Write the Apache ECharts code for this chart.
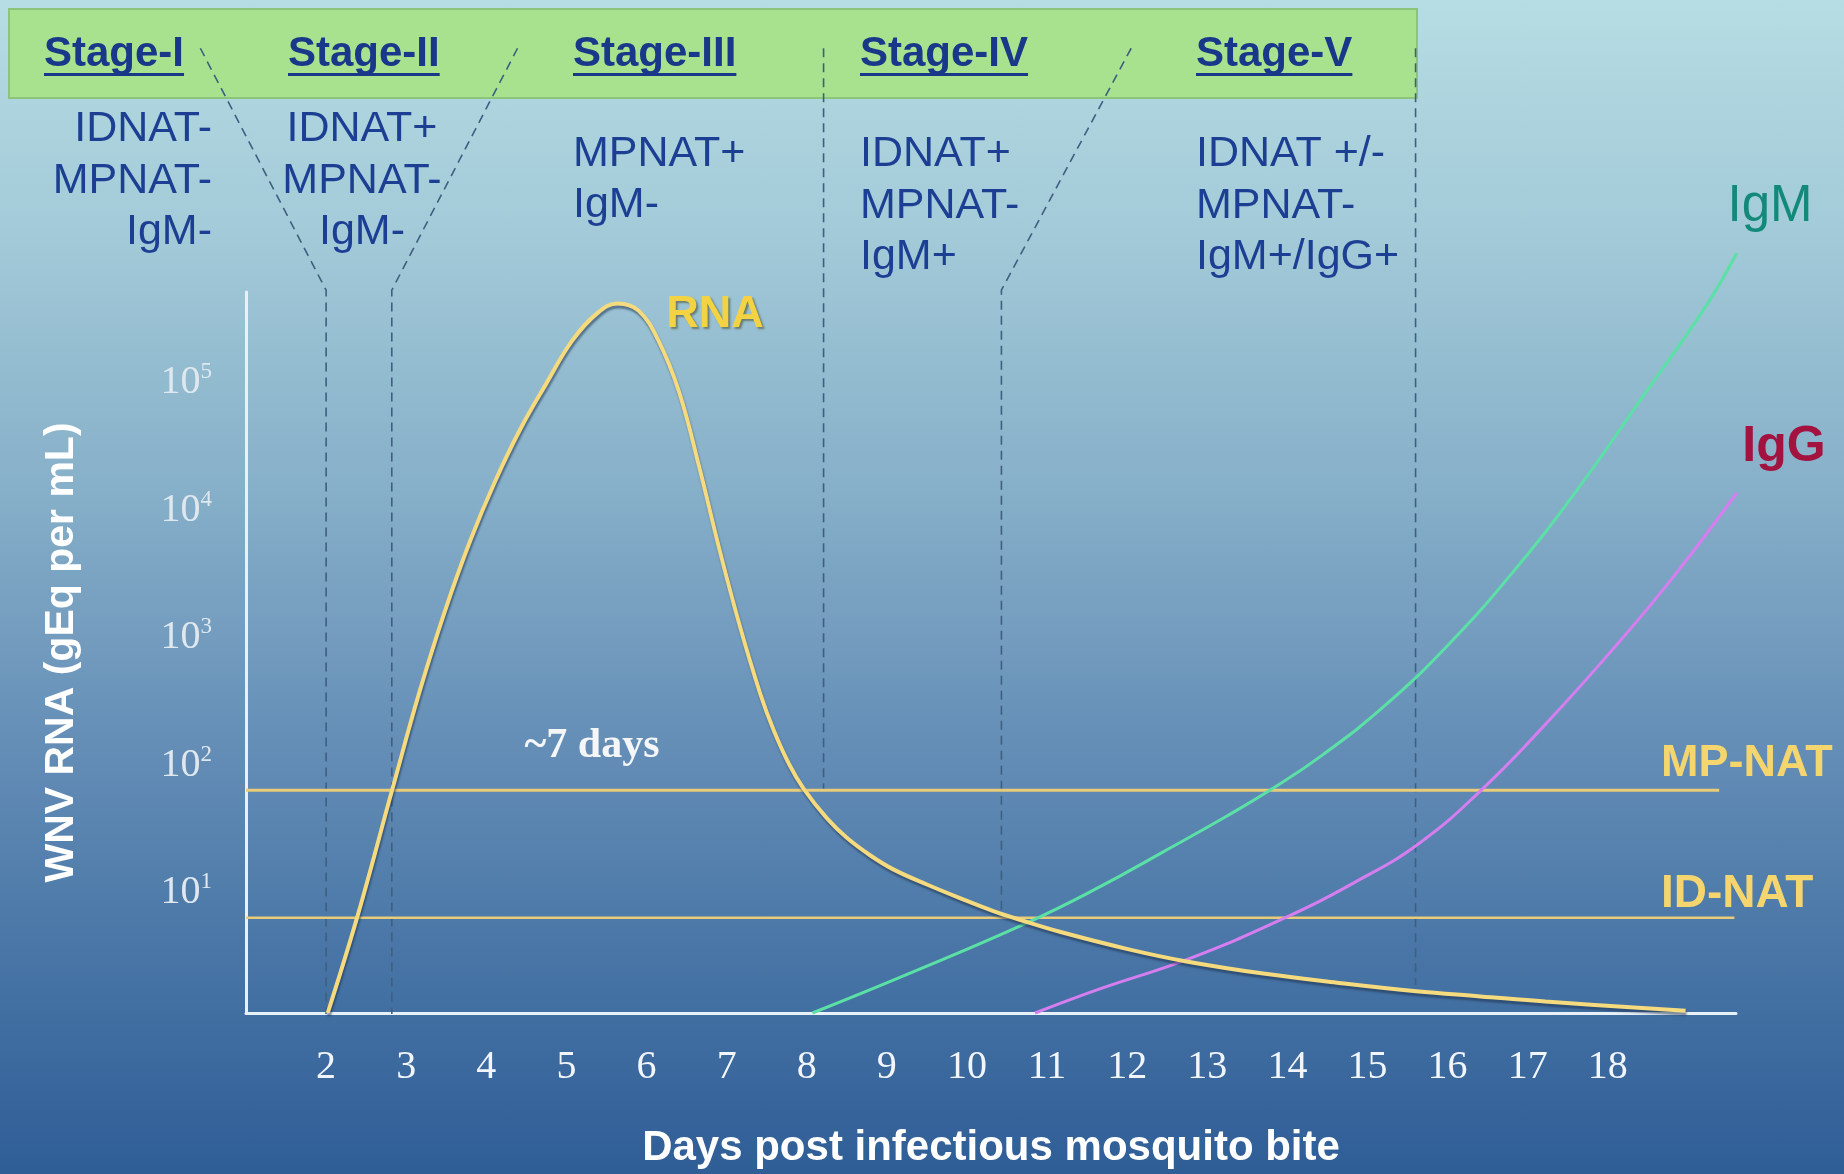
<!DOCTYPE html>
<html><head><meta charset="utf-8">
<script src="https://cdn.jsdelivr.net/npm/echarts@6/dist/echarts.min.js"></script>
<style>
html,body{margin:0;padding:0;}
#chart{width:1844px;height:1174px;background:linear-gradient(to bottom,#b6dde3 0%,#a2cad8 20%,#86afc9 42%,#6790b8 62%,#4a77a7 80%,#2f5d96 100%);}
</style></head><body><div id="chart"></div>
<script>
// ---------- data ----------
const xTickDays = [2,3,4,5,6,7,8,9,10,11,12,13,14,15,16,17,18];
const yTickExponents = [1,2,3,4,5];

const rnaDays   = [2.02, 2.39, 2.83, 3.16, 3.48, 3.80, 4.11, 4.43, 4.75, 5.07, 5.39, 5.64, 5.90, 6.15, 6.41, 6.66, 6.92, 7.17, 7.42, 7.59, 7.78, 7.96, 8.25, 8.50, 8.79, 9.08, 9.50, 9.92, 10.33, 10.67, 11.17, 12.02, 12.74, 13.70, 14.65, 15.61, 16.41, 17.22, 18.97];
const rnaValues = [1, 5.7, 58, 322, 1406, 5100, 14900, 38800, 87300, 188000, 312000, 370000, 325000, 188000, 73600, 19000, 4100, 1060, 320, 164, 89.5, 57.7, 33.8, 23.7, 17.3, 13.4, 10.2, 7.94, 6.31, 5.37, 4.32, 3.16, 2.54, 2.04, 1.72, 1.48, 1.35, 1.23, 1.04];

const igmDays   = [8.07, 9.26, 10.77, 11.65, 12.45, 13.24, 13.80, 14.44, 15.24, 16.03, 16.82, 17.62, 18.42, 19.22, 19.61];
const igmValues = [1, 2.02, 5.17, 9.71, 18.4, 35, 56.9, 106, 266, 801, 2910, 12800, 66500, 349000, 920000];

const iggDays   = [10.85, 11.65, 12.76, 13.96, 14.84, 15.63, 16.43, 17.22, 18.02, 18.82, 19.61];
const iggValues = [1, 1.54, 2.65, 5.55, 10.6, 21.1, 56.9, 184, 667, 2660, 12100];

const mpnatLevel = 56;
const idnatLevel = 5.6;
const mpnatSpan = [1, 19.39];
const idnatSpan = [1, 19.58];

// stage boundary dashed lines: [day, value]
const boundaryA = [[0.43, 3.7e7], [2.0, 4.7e5], [2.0, 1]];
const boundaryB = [[4.39, 3.7e7], [2.82, 4.7e5], [2.82, 1]];
const boundaryC = [[8.21, 3.7e7], [8.21, 56]];
const boundaryD = [[12.05, 3.7e7], [10.43, 4.7e5], [10.43, 5.6]];
const boundaryE = [[15.60, 3.7e7], [15.60, 1.69]];

const stageTitles = ['Stage-I', 'Stage-II', 'Stage-III', 'Stage-IV', 'Stage-V'];
const stageStatus = [
  ['IDNAT-', 'MPNAT-', 'IgM-'],
  ['IDNAT+', 'MPNAT-', 'IgM-'],
  ['MPNAT+', 'IgM-'],
  ['IDNAT+', 'MPNAT-', 'IgM+'],
  ['IDNAT +/-', 'MPNAT-', 'IgM+/IgG+']
];
const yAxisTitle = 'WNV RNA (gEq per mL)';
const xAxisTitle = 'Days post infectious mosquito bite';

// ---------- layout ----------
const SANS = '"Liberation Sans", Arial, Helvetica, sans-serif';
const SERIF = '"Liberation Serif", "Times New Roman", serif';
const titleFont = 'bold 42px ' + SANS;
const statusFont = '43px ' + SANS;
const titleX = [44, 288, 573, 860, 1196];
const statusLayout = [
  {x: 212, align: 'right', ys: [129, 181, 232]},
  {x: 362, align: 'center', ys: [129, 181, 232]},
  {x: 573, align: 'left', ys: [154, 205]},
  {x: 860, align: 'left', ys: [154, 206, 257]},
  {x: 1196, align: 'left', ys: [154, 206, 257]}
];
const GRID = {top: 292, bottom: 160, right: 108, left: 246};
const X_MIN = 1, X_MAX = 19.6;
const pxPerDay = (1844 - GRID.left - GRID.right) / (X_MAX - X_MIN);

const mctx = document.createElement('canvas').getContext('2d');
function measure(t, f) { mctx.font = f; return mctx.measureText(t).width; }

const zip = (a, b) => a.map((v, i) => [v, b[i]]);

const graphics = [];
graphics.push({type: 'rect', z: 0, shape: {x: 9, y: 9, width: 1408, height: 89},
  style: {fill: '#a9e28e', stroke: '#8cc579', lineWidth: 2}});
stageTitles.forEach((t, i) => {
  graphics.push({type: 'text', z: 10, x: titleX[i], y: 54,
    style: {text: t, font: titleFont, fill: '#19388a', align: 'left', verticalAlign: 'middle'}});
  const w = measure(t, titleFont);
  graphics.push({type: 'rect', z: 10, shape: {x: titleX[i], y: 73, width: w, height: 3},
    style: {fill: '#19388a'}});
});
stageStatus.forEach((lines, i) => {
  const L = statusLayout[i];
  lines.forEach((t, j) => {
    graphics.push({type: 'text', z: 10, x: L.x, y: L.ys[j],
      style: {text: t, font: statusFont, fill: '#1d3f93', align: L.align, verticalAlign: 'middle'}});
  });
});
function label(t, x, y, font, fill, align, shadow) {
  const s = {text: t, font: font, fill: fill, align: align || 'center', verticalAlign: 'middle'};
  if (shadow) { s.textShadowColor = shadow; s.textShadowOffsetX = 2; s.textShadowOffsetY = 2; s.textShadowBlur = 2; }
  graphics.push({type: 'text', z: 10, x: x, y: y, style: s});
}
label('RNA', 715, 315, 'bold 45px ' + SANS, '#f3d243', 'center', 'rgba(70,70,30,0.55)');
label('IgM', 1770, 207, '51px ' + SANS, '#13897a', 'center');
label('IgG', 1784, 447, 'bold 50px ' + SANS, '#a3133f', 'center');
label('MP-NAT', 1661, 764, 'bold 45px ' + SANS, '#f4d56e', 'left');
label('ID-NAT', 1661, 894, 'bold 46px ' + SANS, '#f4d56e', 'left');
label('~7 days', 592, 746, 'bold 42px ' + SERIF, '#f4f6f8', 'center');

const dashStyle = {color: '#3e5f80', width: 1.6, type: [9, 6]};
const boundarySeries = [boundaryA, boundaryB, boundaryC, boundaryD, boundaryE].map(d => ({
  type: 'line', data: d, symbol: 'none', clip: false, silent: true, z: 3,
  xAxisIndex: 1, yAxisIndex: 1,
  lineStyle: dashStyle
}));

const option = {
  animation: false,
  backgroundColor: 'transparent',
  grid: [
    {left: GRID.left, right: GRID.right, top: GRID.top, bottom: GRID.bottom, containLabel: false},
    // same scale, extended one day to the left, for the annotation lines
    {left: GRID.left - pxPerDay, right: GRID.right, top: GRID.top, bottom: GRID.bottom, containLabel: false}
  ],
  xAxis: [{
    type: 'value', min: X_MIN, max: X_MAX, interval: 1, gridIndex: 0,
    name: xAxisTitle, nameLocation: 'middle', nameGap: 114,
    nameTextStyle: {color: '#ffffff', fontFamily: SANS, fontWeight: 'bold', fontSize: 42},
    axisLine: {show: true, lineStyle: {color: '#e9f1f8', width: 3}},
    axisTick: {show: false}, splitLine: {show: false},
    axisLabel: {
      margin: 34, color: '#f2f6fa', fontFamily: SERIF, fontSize: 40,
      formatter: v => xTickDays.indexOf(Math.round(v)) >= 0 && Math.abs(v - Math.round(v)) < 1e-6 ? String(Math.round(v)) : ''
    }
  }, {
    type: 'value', min: X_MIN - 1, max: X_MAX, gridIndex: 1, show: false
  }],
  yAxis: [{
    type: 'log', logBase: 10, min: 1, max: 455000, gridIndex: 0,
    name: yAxisTitle, nameLocation: 'middle', nameRotate: 90, nameGap: 164,
    nameTextStyle: {color: '#ffffff', fontFamily: SANS, fontWeight: 'bold', fontSize: 41},
    axisLine: {show: true, lineStyle: {color: '#e9f1f8', width: 3}},
    axisTick: {show: false}, splitLine: {show: false},
    axisLabel: {
      margin: 34, showMaxLabel: false, padding: [14, 0, 0, 0],
      formatter: v => {
        const l = Math.log10(v), e = Math.round(l);
        if (Math.abs(l - e) > 1e-6 || yTickExponents.indexOf(e) < 0) return '';
        return '{b|10}{s|' + e + '}';
      },
      rich: {
        b: {fontFamily: SERIF, fontSize: 40, color: '#dfe8ef', lineHeight: 44},
        s: {fontFamily: SERIF, fontSize: 23, color: '#dfe8ef', lineHeight: 24, verticalAlign: 'top'}
      }
    }
  }, {
    type: 'log', logBase: 10, min: 1, max: 455000, gridIndex: 1, show: false
  }],
  graphic: graphics,
  series: [
    ...boundarySeries,
    {type: 'line', name: 'MP-NAT', data: mpnatSpan.map(d => [d, mpnatLevel]), symbol: 'none', z: 4,
      lineStyle: {color: '#e9cc78', width: 3}},
    {type: 'line', name: 'ID-NAT', data: idnatSpan.map(d => [d, idnatLevel]), symbol: 'none', z: 4,
      lineStyle: {color: '#e9cc78', width: 2.5}},
    {type: 'line', name: 'IgM', data: zip(igmDays, igmValues), symbol: 'none', smooth: 0.45, clip: false, z: 5,
      lineStyle: {color: '#5be0a6', width: 3}},
    {type: 'line', name: 'IgG', data: zip(iggDays, iggValues), symbol: 'none', smooth: 0.45, clip: false, z: 5,
      lineStyle: {color: '#d67ef0', width: 3}},
    {type: 'line', name: 'RNA', data: zip(rnaDays, rnaValues), symbol: 'none', smooth: 0.4, clip: false, z: 6,
      lineStyle: {color: '#f5da7e', width: 4, shadowColor: 'rgba(30,50,80,0.55)', shadowOffsetY: 3, shadowOffsetX: 1, shadowBlur: 2}}
  ]
};

const chart = echarts.init(document.getElementById('chart'), null, {renderer: 'canvas'});
chart.setOption(option);
</script>
</body></html>
